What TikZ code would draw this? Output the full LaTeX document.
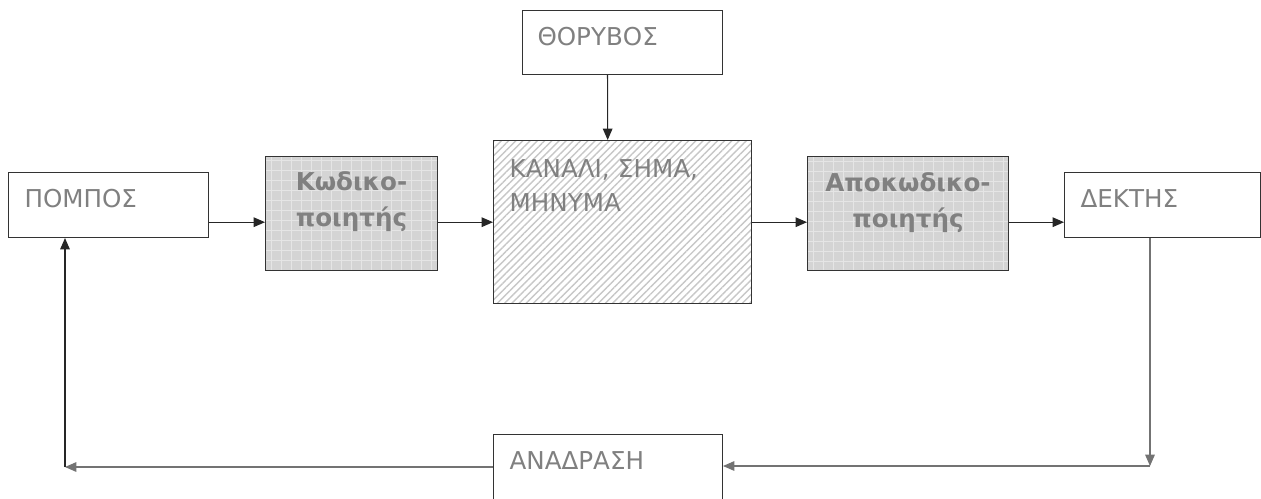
\documentclass[tikz,border=0pt]{standalone}
\usepackage{fontspec}
\setmainfont{DejaVu Sans}
\usetikzlibrary{arrows.meta,patterns.meta}
\tikzset{
  blok/.style={draw=black!80,anchor=north west,inner xsep=0.32cm,inner ysep=0pt,
    text height=0.7cm,align=left,text=black!50,font=\fontsize{14}{19.3}\selectfont},
  kod/.style={blok,align=center,fill=black!17,font=\fontsize{14}{20.4}\selectfont\bfseries,
    path picture={\draw[white,line width=0.3pt,opacity=0.4] (path picture bounding box.south west)
      grid[step=0.2cm] (path picture bounding box.north east);}},
  arr/.style={-{Triangle[length=6.5pt,width=5.5pt]},black!85},
  fb/.style={arr,draw=black!55}
}
\begin{document}
\begin{tikzpicture}[x=0.02cm,y=-0.02cm,semithick]
\useasboundingbox (0,0) rectangle (1261,498);
\node[blok,text width=3.36cm,text depth=0.6cm] (pompos) at (8,172) {ΠΟΜΠΟΣ};
\node[kod,text width=2.8cm,text height=0.68cm,text depth=1.6cm] (kodiko) at (265,156) {Κωδικο-\\ποιητής};
\node[blok,text width=4.52cm,text height=0.74cm,text depth=2.52cm,
  pattern={Lines[angle=45,distance=2.9pt,line width=0.8pt]},pattern color=black!22] (kanali) at (493,140) {ΚΑΝΑΛΙ, ΣΗΜΑ,\\ΜΗΝΥΜΑ};
\node[blok,inner xsep=0.3cm,text width=3.4cm,text depth=0.58cm] (thorubos) at (522,10) {ΘΟΡΥΒΟΣ};
\node[kod,text width=3.38cm,text depth=1.58cm] (apokod) at (807,156) {Αποκωδικο-\\ποιητής};
\node[blok,text width=3.28cm,text depth=0.6cm] (dektis) at (1064,172) {ΔΕΚΤΗΣ};
\node[blok,text width=3.94cm,text depth=0.6cm] (anadrasi) at (493,434) {ΑΝΑΔΡΑΣΗ};
\coordinate (fbR) at (1150,466);
\coordinate (fbL) at (65,467);
\draw[arr] (pompos.east |- kanali.west) -- (kodiko.west |- kanali.west);
\draw[arr] (kodiko.east |- kanali.west) -- (kanali.west);
\draw[arr] (kanali.east) -- (apokod.west |- kanali.east);
\draw[arr] (apokod.east |- kanali.east) -- (dektis.west |- kanali.east);
\draw[arr] ([xshift=-0.3cm]thorubos.south) -- ([xshift=-0.3cm]kanali.north);
\draw[fb] (dektis.south -| fbR) -- (fbR);
\draw[fb] (fbR) -- (fbR -| anadrasi.east);
\draw[fb] (anadrasi.west |- fbL) -- (fbL);
\draw[arr] (fbL) -- (fbL |- pompos.south);
\end{tikzpicture}
\end{document}
